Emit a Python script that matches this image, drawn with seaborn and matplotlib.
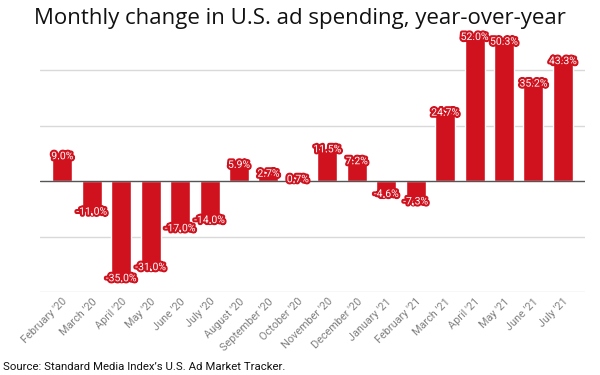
import matplotlib
matplotlib.use("Agg")
import matplotlib.pyplot as plt
import matplotlib.patheffects as pe
import seaborn as sns
import pandas as pd

# data
months = ["February '20", "March '20", "April '20", "May '20", "June '20",
          "July '20", "August '20", "September '20", "October '20",
          "November '20", "December '20", "January '21", "February '21",
          "March '21", "April '21", "May '21", "June '21", "July '21"]
change = [9.0, -11.0, -35.0, -31.0, -17.0, -14.0, 5.9, 2.7, 0.7,
          11.5, 7.2, -4.6, -7.3, 24.7, 52.0, 50.3, 35.2, 43.3]

df = pd.DataFrame({"month": months, "change": change})
red = "#d0121e"

sns.set_theme(style="white")
plt.rcParams["font.family"] = ["Roboto", "DejaVu Sans"]

fig = plt.figure(figsize=(6, 3.75), dpi=100)
ax = fig.add_axes([0.067, 0.221, 0.908, 0.71])

sns.barplot(data=df, x="month", y="change", color=red, saturation=1,
            width=0.68, ax=ax)

ax.set_ylim(-40, 56)
ax.set_xlim(-0.75, 17.75)
for v in [-40, -20, 20, 40]:
    ax.axhline(v, color="#d9d9d9", lw=1, zorder=0)
ax.axhline(0, color="#555555", lw=1, zorder=3)

for i, v in enumerate(change):
    ax.text(i, v, f"{v:.1f}%", ha="center", va="center", fontsize=7.5,
            color="white", zorder=4,
            path_effects=[pe.withStroke(linewidth=3, foreground=red)])

for s in ax.spines.values():
    s.set_visible(False)
ax.set_yticks([])
ax.set_xlabel("")
ax.set_ylabel("")
ax.tick_params(axis="x", length=0, pad=3)
plt.setp(ax.get_xticklabels(), rotation=45, ha="right",
         rotation_mode="anchor", fontsize=7.8, color="#808080")

fig.text(0.5, 0.95, "Monthly change in U.S. ad spending, year-over-year",
         ha="center", va="center", fontsize=16, family="Open Sans",
         color="#111111")
fig.text(0.005, 0.022, "Source: Standard Media Index\u2019s U.S. Ad Market Tracker.",
         ha="left", va="center", fontsize=8.2, color="#111111")

fig.savefig("out.png", dpi=100)
